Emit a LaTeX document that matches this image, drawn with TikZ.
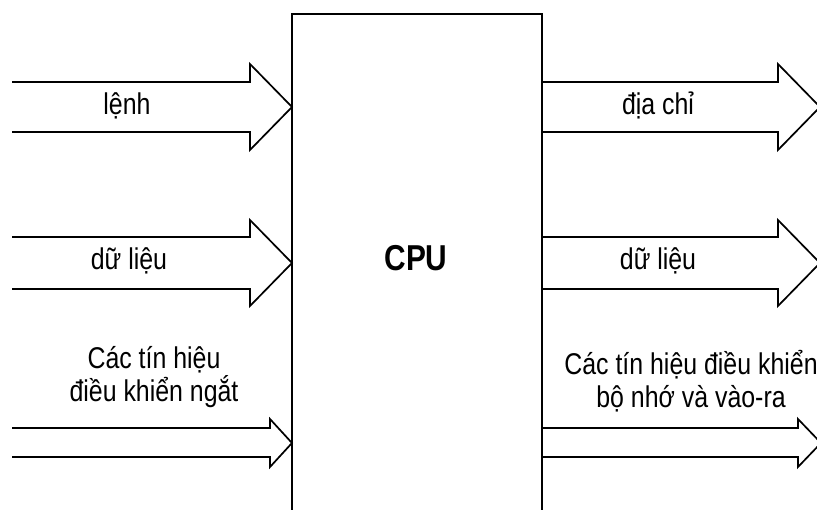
\documentclass[tikz,border=0pt]{standalone}
\usepackage{fontspec}
\setmainfont{Liberation Sans}[FakeStretch=0.83]
\begin{document}
\begin{tikzpicture}[x=1pt,y=-1pt,
  barrow/.style={draw=black, line width=1.7pt, line join=miter},
  cpubox/.style={draw=black, line width=1.9pt},
  lbl/.style={inner sep=0pt, font=\fontsize{30}{33}\selectfont, text=black},
  cpulbl/.style={inner sep=0pt, font=\fontsize{36}{40}\selectfont\bfseries, text=black}]
\useasboundingbox (0,0) rectangle (817,510);
\clip (0,0) rectangle (817,510);
% CPU box (open at bottom)
\coordinate (bl) at (292,530);
\coordinate (tl) at (292,14);
\coordinate (tr) at (542,14);
\coordinate (br) at (542,530);
\draw[cpubox] (bl) -- (tl) -- (tr) -- (br);
\node[cpulbl, anchor=base] (cpu) at (416,271) {CPU};
% left block arrows
\draw[barrow] (12,82) -- (250,82) -- (250,64) -- (292,107) -- (250,150) -- (250,132) -- (12,132);
\draw[barrow] (12,237) -- (250,237) -- (250,220) -- (292,263) -- (250,306) -- (250,289) -- (12,289);
\draw[barrow] (12,428) -- (270,428) -- (270,419) -- (292,443) -- (270,467) -- (270,457) -- (12,457);
% right block arrows
\draw[barrow] (542,82) -- (778,82) -- (778,64) -- (820,107) -- (778,150) -- (778,132) -- (542,132);
\draw[barrow] (542,237) -- (778,237) -- (778,220) -- (820,263) -- (778,306) -- (778,289) -- (542,289);
\draw[barrow] (542,428) -- (798,428) -- (798,419) -- (821,443) -- (798,467) -- (798,457) -- (542,457);
% labels
\node[lbl, anchor=base] (lenh) at (127,115) {lệnh};
\node[lbl, anchor=base] (dlin) at (129,270) {dữ liệu};
\node[lbl, anchor=base, align=center] (ctin) at (154,402) {Các tín hiệu\\điều khiển ngắt};
\node[lbl, anchor=base] (dchi) at (658,115) {địa chỉ};
\node[lbl, anchor=base] (dlout) at (658,270) {dữ liệu};
\node[lbl, anchor=base, align=center] (ctout) at (691,408) {Các tín hiệu điều khiển\\bộ nhớ và vào-ra};
\end{tikzpicture}
\end{document}
